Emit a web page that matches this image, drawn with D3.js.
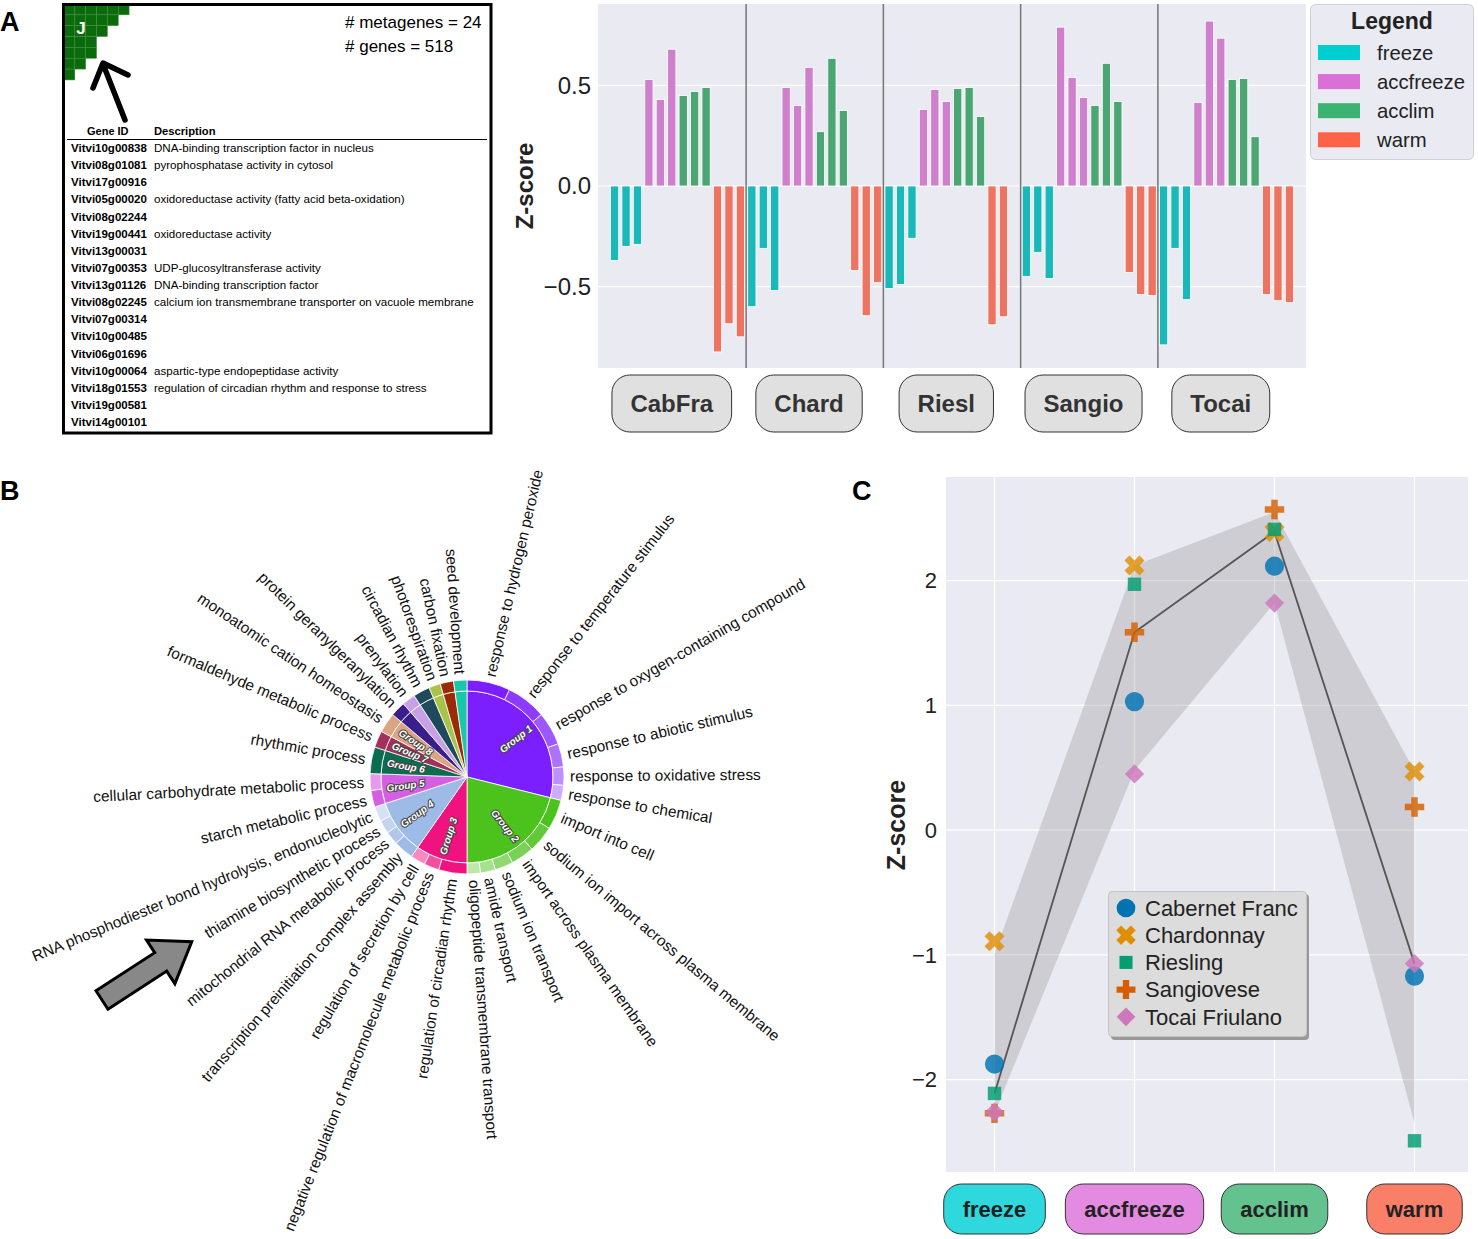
<!DOCTYPE html>
<html lang="en">
<head>
<meta charset="UTF-8">
<title>Metagene J</title>
<script src="https://d3js.org/d3.v7.min.js"></script>
<style>
  body { margin: 0; background: #fff; }
  text { font-family: "Liberation Sans", Arial, sans-serif; }
</style>
</head>
<body>
<div id="chart"></div>
<script>
// ---------- data ----------
// panel A table
const geneIds = ['Vitvi10g00838','Vitvi08g01081','Vitvi17g00916','Vitvi05g00020','Vitvi08g02244',
  'Vitvi19g00441','Vitvi13g00031','Vitvi07g00353','Vitvi13g01126','Vitvi08g02245','Vitvi07g00314',
  'Vitvi10g00485','Vitvi06g01696','Vitvi10g00064','Vitvi18g01553','Vitvi19g00581','Vitvi14g00101'];
const descriptions = ['DNA-binding transcription factor in nucleus','pyrophosphatase activity in cytosol','',
  'oxidoreductase activity (fatty acid beta-oxidation)','','oxidoreductase activity','',
  'UDP-glucosyltransferase activity','DNA-binding transcription factor',
  'calcium ion transmembrane transporter on vacuole membrane','','','',
  'aspartic-type endopeptidase activity','regulation of circadian rhythm and response to stress','',''];
const stairCounts = [6, 5, 4, 3, 3, 2, 1];

// panel A bars: cultivar x condition x 3 replicates
const cultivarsShort = ['CabFra', 'Chard', 'Riesl', 'Sangio', 'Tocai'];
const conditions = ['freeze', 'accfreeze', 'acclim', 'warm'];
const freezeVals    = [[-0.37,-0.30,-0.29],[-0.60,-0.31,-0.52],[-0.51,-0.49,-0.26],[-0.45,-0.33,-0.46],[-0.79,-0.31,-0.565]];
const accfreezeVals = [[0.53,0.43,0.68],[0.49,0.40,0.59],[0.38,0.48,0.42],[0.79,0.54,0.44],[0.415,0.82,0.735]];
const acclimVals    = [[0.45,0.47,0.49],[0.27,0.635,0.375],[0.485,0.49,0.345],[0.40,0.61,0.42],[0.53,0.535,0.245]];
const warmVals      = [[-0.825,-0.685,-0.75],[-0.42,-0.645,-0.48],[-0.69,-0.65,null],[-0.43,-0.54,-0.545],[-0.54,-0.57,-0.58]];
const yTicksA = [-0.5, 0, 0.5];

// panel B: GO terms with group and size
const groupNames = ['Group 1','Group 2','Group 3','Group 4','Group 5','Group 6','Group 7','Group 8','','','','','',''];
const groupColors = ['#7b1fff','#4cc21c','#f0137f','#9ebae6','#d55fe2','#0b6c4f','#a2305b','#dca582',
  '#3a1e8c','#c8a0e8','#1f4a5c','#a8c34a','#9a2b06','#19c6a8'];
const termNames = ['response to hydrogen peroxide','response to temperature stimulus','response to oxygen-containing compound',
  'response to abiotic stimulus','response to oxidative stress','response to chemical',
  'import into cell','sodium ion import across plasma membrane','import across plasma membrane','sodium ion transport',
  'amide transport','oligopeptide transmembrane transport',
  'regulation of circadian rhythm','negative regulation of macromolecule metabolic process','regulation of secretion by cell',
  'transcription preinitiation complex assembly','mitochondrial RNA metabolic process','thiamine biosynthetic process',
  'RNA phosphodiester bond hydrolysis, endonucleolytic',
  'starch metabolic process','cellular carbohydrate metabolic process',
  'rhythmic process','formaldehyde metabolic process','monoatomic cation homeostasis',
  'protein geranylgeranylation','prenylation','circadian rhythm','photorespiration','carbon fixation','seed development'];
const termGroups = [0,0,0,0,0,0, 1,1,1,1,1,1, 2,2,2, 3,3,3,3, 4,4, 5,6,7, 8,9,10,11,12,13];
const termSizes  = [26,24,20,14,11,9, 18,16,14,11,9,8, 17,9,9, 12,8,8,9, 10,10, 16,10,12, 9,8,10,7,8,8];

// panel C
const stages = ['freeze', 'accfreeze', 'acclim', 'warm'];
const stageColors = ['#2ed8dc', '#e28be0', '#63c28e', '#fa7f69'];
const cultivars = ['Cabernet Franc', 'Chardonnay', 'Riesling', 'Sangiovese', 'Tocai Friulano'];
const cultivarColors = ['#0173b2', '#de8f05', '#029e73', '#d55e00', '#cc78bc'];
const cabFraZ = [-1.875, 1.03, 2.115, -1.17];
const chardZ  = [-0.89, 2.12, 2.39, 0.47];
const rieslZ  = [-2.11, 1.97, 2.41, -2.49];
const sangioZ = [-2.27, 1.585, 2.57, 0.185];
const tocaiZ  = [-2.26, 0.45, 1.82, -1.07];
const bandLow  = [-2.27, 0.48, 1.82, -2.35];
const bandHigh = [-0.99, 2.12, 2.55, 0.47];
const yTicksC = [-2, -1, 0, 1, 2];

// ---------- svg ----------
const svg = d3.select('#chart').append('svg')
  .attr('width', 1478).attr('height', 1239);

[['A', 0, 31], ['B', 0, 500], ['C', 852, 500]].forEach(p => {
  svg.append('text').attr('x', p[1]).attr('y', p[2]).text(p[0])
    .attr('font-size', 27).attr('font-weight', 'bold');
});

// ---------- panel A: table ----------
const tbl = svg.append('g');
const cell = 10.85;
stairCounts.forEach((n, r) => {
  for (let c = 0; c < n; c++) {
    tbl.append('rect').attr('x', 64 + c * cell).attr('y', 4 + r * cell)
      .attr('width', cell).attr('height', cell)
      .attr('fill', '#0b6a0b').attr('stroke', '#3f8f3f').attr('stroke-width', 0.5);
  }
});
tbl.append('text').attr('x', 81).attr('y', 34).attr('text-anchor', 'middle')
  .attr('fill', '#fff').attr('font-size', 17).attr('font-weight', 'bold').text('J');
tbl.append('rect').attr('x', 63.5).attr('y', 4.5).attr('width', 427.5).attr('height', 428.5)
  .attr('fill', 'none').attr('stroke', '#000').attr('stroke-width', 3);
// black pointer arrow
tbl.append('path').attr('d', 'M125,120 L103,64 M93,88 L103,63 L128,75')
  .attr('fill', 'none').attr('stroke', '#000').attr('stroke-width', 5.5)
  .attr('stroke-linecap', 'round').attr('stroke-linejoin', 'round');
tbl.append('text').attr('x', 345).attr('y', 28).attr('font-size', 17).text('# metagenes = 24');
tbl.append('text').attr('x', 345).attr('y', 52).attr('font-size', 17).text('# genes = 518');
tbl.append('text').attr('x', 87).attr('y', 135).attr('font-size', 11).attr('font-weight', 'bold').text('Gene ID');
tbl.append('text').attr('x', 154).attr('y', 135).attr('font-size', 11.2).attr('font-weight', 'bold').text('Description');
tbl.append('line').attr('x1', 67).attr('x2', 487).attr('y1', 139.5).attr('y2', 139.5)
  .attr('stroke', '#000').attr('stroke-width', 1);
const rowY = d3.scaleLinear().domain([0, 16]).range([152, 426]);
geneIds.forEach((g, i) => {
  tbl.append('text').attr('x', 71).attr('y', rowY(i)).attr('font-size', 11.5)
    .attr('font-weight', 'bold').text(g);
  if (descriptions[i]) {
    tbl.append('text').attr('x', 154).attr('y', rowY(i)).attr('font-size', 11.6).text(descriptions[i]);
  }
});

// ---------- panel A: bars ----------
const barColors = ['#1ab8b8', '#cf80cc', '#4ba673', '#ec7461'];
const legendColors = ['#00ced1', '#da70d6', '#3cb371', '#ff6347'];
const condVals = [freezeVals, accfreezeVals, acclimVals, warmVals];
const bars = [];
cultivarsShort.forEach((cv, ci) => {
  conditions.forEach((cd, k) => {
    condVals[k][ci].forEach((v, r) => {
      bars.push({ slot: ci * 12 + k * 3 + r, cond: k, value: v });
    });
  });
});
const xA = d3.scaleLinear().domain([-1.45, 60.45]).range([598, 1306]);
const yA = d3.scaleLinear().domain([-0.905, 0.905]).range([368, 4]);
const gA = svg.append('g');
gA.append('rect').attr('x', 598).attr('y', 4).attr('width', 708).attr('height', 364).attr('fill', '#eaeaf2');
gA.selectAll('.gridA').data(yTicksA).enter().append('line')
  .attr('x1', 598).attr('x2', 1306).attr('y1', d => yA(d)).attr('y2', d => yA(d))
  .attr('stroke', '#fff').attr('stroke-width', 1.2);
gA.selectAll('.bar').data(bars.filter(d => d.value !== null)).enter().append('rect')
  .attr('x', d => xA(d.slot - 0.36)).attr('width', xA(0.72) - xA(0))
  .attr('y', d => yA(Math.max(0, d.value)))
  .attr('height', d => Math.abs(yA(d.value) - yA(0)))
  .attr('fill', d => barColors[d.cond]).attr('stroke', '#fff').attr('stroke-width', 0.8);
gA.selectAll('.sep').data([11.5, 23.5, 35.5, 47.5]).enter().append('line')
  .attr('x1', d => xA(d)).attr('x2', d => xA(d)).attr('y1', 4).attr('y2', 368)
  .attr('stroke', '#777').attr('stroke-width', 1.5);
gA.selectAll('.ytA').data(yTicksA).enter().append('text')
  .attr('x', 591).attr('y', d => yA(d)).attr('dy', '0.35em').attr('text-anchor', 'end')
  .attr('font-size', 24).attr('fill', '#222').text(d3.format('.1f'));
gA.append('text').attr('transform', 'translate(533,186) rotate(-90)').attr('text-anchor', 'middle')
  .attr('font-size', 24).attr('font-weight', 'bold').attr('fill', '#222').text('Z-score');
cultivarsShort.forEach((cv, ci) => {
  const cx = xA(5 + ci * 12);
  const g = gA.append('g');
  const t = g.append('text').attr('x', cx).attr('y', 404).attr('dy', '0.35em').attr('text-anchor', 'middle')
    .attr('font-size', 24).attr('font-weight', 'bold').attr('fill', '#333').text(cv);
  const w = t.node().getComputedTextLength() + 37;
  g.insert('rect', 'text').attr('x', cx - w / 2).attr('y', 375).attr('width', w).attr('height', 57)
    .attr('rx', 18).attr('fill', '#e0e0e0').attr('stroke', '#333').attr('stroke-width', 1);
});
// legend
const lgA = svg.append('g');
lgA.append('rect').attr('x', 1310.5).attr('y', 4.5).attr('width', 163).attr('height', 155).attr('rx', 5)
  .attr('fill', '#eaeaf2').attr('stroke', '#cfcfd6');
lgA.append('text').attr('x', 1392).attr('y', 29).attr('text-anchor', 'middle')
  .attr('font-size', 23).attr('font-weight', 'bold').attr('fill', '#222').text('Legend');
conditions.forEach((c, i) => {
  const cy = 52.5 + i * 29.1;
  lgA.append('rect').attr('x', 1318).attr('y', cy - 7.5).attr('width', 42).attr('height', 15).attr('fill', legendColors[i]);
  lgA.append('text').attr('x', 1377).attr('y', cy).attr('dy', '0.35em').attr('font-size', 20.3)
    .attr('fill', '#222').text(c);
});

// ---------- panel B: sunburst pie ----------
const cxB = 467, cyB = 777, rIn = 86, rOut = 97, rLab = 103;
const terms = termNames.map((t, i) => ({ name: t, group: termGroups[i], size: termSizes[i] }));
const groups = groupNames.map((g, i) => ({
  name: g, color: groupColors[i],
  total: d3.sum(terms.filter(t => t.group === i), t => t.size),
  n: terms.filter(t => t.group === i).length
}));
const gB = svg.append('g').attr('transform', `translate(${cxB},${cyB})`);
const groupArcs = d3.pie().sort(null).value(d => d.total)(groups);
const termArcs = d3.pie().sort(null).value(d => d.size)(terms);
const arcIn = d3.arc().innerRadius(0).outerRadius(rIn);
const arcOut = d3.arc().innerRadius(rIn).outerRadius(rOut);
gB.selectAll('.gslice').data(groupArcs).enter().append('path')
  .attr('d', arcIn).attr('fill', d => d.data.color).attr('stroke', '#fff').attr('stroke-width', 0.8);
const rank = {};
gB.selectAll('.tslice').data(termArcs).enter().append('path')
  .attr('d', arcOut)
  .attr('fill', d => {
    const g = groups[d.data.group];
    const j = rank[d.data.group] = (rank[d.data.group] === undefined ? 0 : rank[d.data.group] + 1);
    return d3.interpolateRgb(g.color, '#fff')(j / g.n * 0.75);
  })
  .attr('stroke', '#fff').attr('stroke-width', 0.8);
const deg = d => (d.startAngle + d.endAngle) / 2 * 180 / Math.PI;
gB.selectAll('.tlab').data(termArcs).enter().append('text')
  .attr('transform', d => {
    const a = deg(d);
    return `rotate(${a - 90}) translate(${rLab},0)` + (a > 180 ? ' rotate(180)' : '');
  })
  .attr('text-anchor', d => deg(d) > 180 ? 'end' : 'start')
  .attr('dy', '0.35em').attr('font-size', 15.4).attr('fill', '#111')
  .text(d => d.data.name);
gB.selectAll('.glab').data(groupArcs.filter(d => d.data.name)).enter().append('text')
  .attr('transform', d => {
    const a = deg(d);
    return `rotate(${a - 90}) translate(62,0)` + (a > 180 ? ' rotate(180)' : '');
  })
  .attr('text-anchor', 'middle').attr('dy', '0.35em')
  .attr('font-size', 10).attr('font-weight', 'bold').attr('font-style', 'italic')
  .attr('fill', '#fff').attr('stroke', '#444').attr('stroke-width', 2).attr('paint-order', 'stroke')
  .text(d => d.data.name);
// gray block arrow
svg.append('path')
  .attr('d', 'M0,-11 L70,-11 L70,-26 L107,0 L70,26 L70,11 L0,11 Z')
  .attr('transform', 'translate(102,1000) rotate(-33)')
  .attr('fill', '#888').attr('stroke', '#000').attr('stroke-width', 3).attr('stroke-linejoin', 'miter');

// ---------- panel C ----------
const xC = d3.scaleLinear().domain([-(994.5 - 946) / 140, (1468 - 994.5) / 140]).range([946, 1468]);
const yC = d3.scaleLinear().domain([-2.74, 2.83]).range([1172, 477]);
const gC = svg.append('g');
gC.append('rect').attr('x', 946).attr('y', 477).attr('width', 522).attr('height', 695).attr('fill', '#eaeaf2');
gC.selectAll('.hgC').data(yTicksC).enter().append('line')
  .attr('x1', 946).attr('x2', 1468).attr('y1', d => yC(d)).attr('y2', d => yC(d))
  .attr('stroke', '#fff').attr('stroke-width', 1.2);
gC.selectAll('.vgC').data(stages).enter().append('line')
  .attr('x1', (d, i) => xC(i)).attr('x2', (d, i) => xC(i)).attr('y1', 477).attr('y2', 1172)
  .attr('stroke', '#fff').attr('stroke-width', 1.2);
const band = d3.area().x((d, i) => xC(i)).y0((d, i) => yC(bandLow[i])).y1((d, i) => yC(bandHigh[i]));
gC.append('path').attr('d', band(stages)).attr('fill', '#808080').attr('fill-opacity', 0.27);
const series = [cabFraZ, chardZ, rieslZ, sangioZ, tocaiZ];
const medians = stages.map((s, i) => d3.median(series, d => d[i]));
gC.append('path').attr('d', d3.line().x((d, i) => xC(i)).y(d => yC(d))(medians))
  .attr('fill', 'none').attr('stroke', '#555').attr('stroke-width', 1.8);
const symbols = [
  { type: d3.symbolCircle, size: 290, rot: 0 },
  { type: d3.symbolCross, size: 250, rot: 45 },
  { type: d3.symbolSquare, size: 180, rot: 0 },
  { type: d3.symbolCross, size: 210, rot: 0 },
  { type: d3.symbolSquare, size: 185, rot: 45 }
];
series.forEach((vals, si) => {
  gC.selectAll('.m' + si).data(vals).enter().append('path')
    .attr('d', d3.symbol().type(symbols[si].type).size(symbols[si].size))
    .attr('transform', (d, i) => `translate(${xC(i)},${yC(d)}) rotate(${symbols[si].rot})`)
    .attr('fill', cultivarColors[si]).attr('fill-opacity', 0.82);
});
gC.selectAll('.ytC').data(yTicksC).enter().append('text')
  .attr('x', 937).attr('y', d => yC(d)).attr('dy', '0.35em').attr('text-anchor', 'end')
  .attr('font-size', 22).attr('fill', '#222').text(d3.format('d'));
gC.append('text').attr('transform', 'translate(905,825) rotate(-90)').attr('text-anchor', 'middle')
  .attr('font-size', 25).attr('font-weight', 'bold').attr('fill', '#222').text('Z-score');
stages.forEach((s, i) => {
  const cx = xC(i);
  const g = gC.append('g');
  const t = g.append('text').attr('x', cx).attr('y', 1209).attr('dy', '0.35em').attr('text-anchor', 'middle')
    .attr('font-size', 22).attr('font-weight', 'bold').attr('fill', '#222').text(s);
  const w = t.node().getComputedTextLength() + 38;
  g.insert('rect', 'text').attr('x', cx - w / 2).attr('y', 1184).attr('width', w).attr('height', 50)
    .attr('rx', 18).attr('fill', stageColors[i]).attr('stroke', '#333').attr('stroke-width', 1);
});
// legend
const lgC = svg.append('g');
lgC.append('rect').attr('x', 1111).attr('y', 894).attr('width', 198).attr('height', 146).attr('rx', 4).attr('fill', '#999');
lgC.append('rect').attr('x', 1108.5).attr('y', 891.5).attr('width', 198).attr('height', 145).attr('rx', 4)
  .attr('fill', '#dcdcdc').attr('stroke', '#c4c4c4');
cultivars.forEach((c, i) => {
  const cy = 908 + i * 27.2;
  lgC.append('path')
    .attr('d', d3.symbol().type(symbols[i].type).size(symbols[i].size * 0.95))
    .attr('transform', `translate(1126,${cy}) rotate(${symbols[i].rot})`)
    .attr('fill', cultivarColors[i]);
  lgC.append('text').attr('x', 1145).attr('y', cy).attr('dy', '0.35em').attr('font-size', 22)
    .attr('fill', '#222').text(c);
});
</script>
</body>
</html>
